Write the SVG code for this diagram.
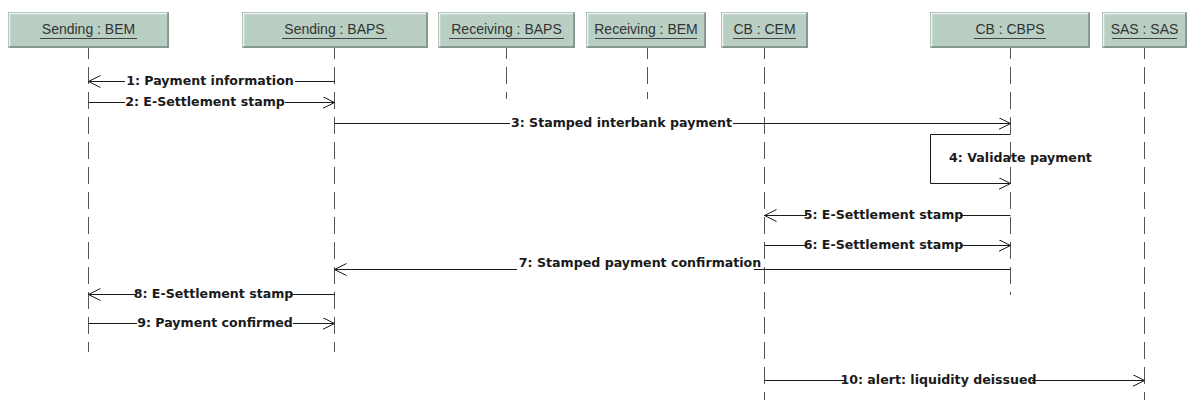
<svg xmlns="http://www.w3.org/2000/svg" width="1189" height="400" viewBox="0 0 1189 400">
<style>
.box{fill:#b9cfc4;stroke:#a3b7ad;stroke-width:1}
.hl{stroke:#eef4f0;stroke-width:1.5;fill:none}
.sh{stroke:#7c8c84;stroke-width:1.5;fill:none}
.bt{font-family:"Liberation Sans",Arial,sans-serif;font-size:14px;fill:#333;text-anchor:middle}
.ul{stroke:#444;stroke-width:1}
.life{stroke:#555;stroke-width:1;stroke-dasharray:17 8;stroke-dashoffset:6;fill:none}
.msg{stroke:#1a1a1a;stroke-width:1;fill:none}
.lbl{font-family:"DejaVu Sans","Liberation Sans",sans-serif;font-weight:bold;font-size:12.6px;fill:#1a1a1a;text-anchor:middle}
.bg{fill:#fff}
</style>
<defs>
<marker id="arr" markerUnits="userSpaceOnUse" markerWidth="14" markerHeight="14" refX="12" refY="6" orient="auto" viewBox="0 0 14 14">
<path d="M0,0 L12,6 L0,12" fill="none" stroke="#1a1a1a" stroke-width="1"/>
</marker>
</defs>
<rect width="1189" height="400" fill="#fff"/>

<g id="lifelines">
<line class="life" x1="88.5" y1="48" x2="88.5" y2="352"/>
<line class="life" x1="334.5" y1="48" x2="334.5" y2="352"/>
<line class="life" x1="506.5" y1="48" x2="506.5" y2="99"/>
<line class="life" x1="647.5" y1="48" x2="647.5" y2="99"/>
<line class="life" x1="764.5" y1="48" x2="764.5" y2="400"/>
<line class="life" x1="1010.5" y1="48" x2="1010.5" y2="295"/>
<line class="life" x1="1144.5" y1="48" x2="1144.5" y2="400"/>
</g>

<g id="node-sending-bem">
<rect class="box" x="8.5" y="12.5" width="160" height="35"/>
<polyline class="hl" points="9.5,46.5 9.5,13.5 167.5,13.5"/>
<polyline class="sh" points="9.5,47 168,47 168,13"/>
<text class="bt" x="88.5" y="33.5">Sending : BEM</text>
<line class="ul" x1="40" y1="38.5" x2="137" y2="38.5"/>
</g>
<g id="node-sending-baps">
<rect class="box" x="242.5" y="12.5" width="185" height="35"/>
<polyline class="hl" points="243.5,46.5 243.5,13.5 426.5,13.5"/>
<polyline class="sh" points="243.5,47 427,47 427,13"/>
<text class="bt" x="334.5" y="33.5">Sending : BAPS</text>
<line class="ul" x1="282" y1="38.5" x2="387" y2="38.5"/>
</g>
<g id="node-receiving-baps">
<rect class="box" x="438.5" y="12.5" width="136" height="35"/>
<polyline class="hl" points="439.5,46.5 439.5,13.5 573.5,13.5"/>
<polyline class="sh" points="439.5,47 574,47 574,13"/>
<text class="bt" x="506.5" y="33.5">Receiving : BAPS</text>
<line class="ul" x1="449" y1="38.5" x2="564" y2="38.5"/>
</g>
<g id="node-receiving-bem">
<rect class="box" x="586.5" y="12.5" width="119" height="35"/>
<polyline class="hl" points="587.5,46.5 587.5,13.5 704.5,13.5"/>
<polyline class="sh" points="587.5,47 705,47 705,13"/>
<text class="bt" x="646" y="33.5">Receiving : BEM</text>
<line class="ul" x1="595" y1="38.5" x2="697" y2="38.5"/>
</g>
<g id="node-cb-cem">
<rect class="box" x="721.5" y="12.5" width="86" height="35"/>
<polyline class="hl" points="722.5,46.5 722.5,13.5 806.5,13.5"/>
<polyline class="sh" points="722.5,47 807,47 807,13"/>
<text class="bt" x="764.5" y="33.5">CB : CEM</text>
<line class="ul" x1="733" y1="38.5" x2="796" y2="38.5"/>
</g>
<g id="node-cb-cbps">
<rect class="box" x="930.5" y="12.5" width="159" height="35"/>
<polyline class="hl" points="931.5,46.5 931.5,13.5 1088.5,13.5"/>
<polyline class="sh" points="931.5,47 1089,47 1089,13"/>
<text class="bt" x="1010" y="33.5">CB : CBPS</text>
<line class="ul" x1="974" y1="38.5" x2="1046" y2="38.5"/>
</g>
<g id="node-sas-sas">
<rect class="box" x="1102.5" y="12.5" width="84" height="35"/>
<polyline class="hl" points="1103.5,46.5 1103.5,13.5 1185.5,13.5"/>
<polyline class="sh" points="1103.5,47 1186,47 1186,13"/>
<text class="bt" x="1144.5" y="33.5">SAS : SAS</text>
<line class="ul" x1="1112" y1="38.5" x2="1177" y2="38.5"/>
</g>

<g id="connectors">
<line class="msg" x1="334.5" y1="81.5" x2="88.5" y2="81.5" marker-end="url(#arr)"/>
<line class="msg" x1="88.5" y1="102.5" x2="334.5" y2="102.5" marker-end="url(#arr)"/>
<line class="msg" x1="334.5" y1="123.5" x2="1010.5" y2="123.5" marker-end="url(#arr)"/>
<polyline class="msg" points="1010.5,134.5 930.5,134.5 930.5,183.5 1010.5,183.5" marker-end="url(#arr)"/>
<line class="msg" x1="1010.5" y1="215.5" x2="764.5" y2="215.5" marker-end="url(#arr)"/>
<line class="msg" x1="764.5" y1="245.5" x2="1010.5" y2="245.5" marker-end="url(#arr)"/>
<line class="msg" x1="1010.5" y1="269.5" x2="334.5" y2="269.5" marker-end="url(#arr)"/>
<line class="msg" x1="334.5" y1="294.5" x2="88.5" y2="294.5" marker-end="url(#arr)"/>
<line class="msg" x1="88.5" y1="323.5" x2="334.5" y2="323.5" marker-end="url(#arr)"/>
<line class="msg" x1="764.5" y1="380.5" x2="1144.5" y2="380.5" marker-end="url(#arr)"/>

<rect class="bg" x="125" y="74" width="170" height="12"/>
<text class="lbl" x="210" y="85">1: Payment information</text>
<rect class="bg" x="125" y="95" width="160" height="12"/>
<text class="lbl" x="205" y="106">2: E-Settlement stamp</text>
<rect class="bg" x="510" y="116" width="223" height="12"/>
<text class="lbl" x="621.5" y="127">3: Stamped interbank payment</text>
<text class="lbl" x="1020.5" y="162" >4: Validate payment</text>
<rect class="bg" x="807" y="208" width="153" height="12"/>
<text class="lbl" x="883.5" y="219">5: E-Settlement stamp</text>
<rect class="bg" x="807" y="238" width="153" height="12"/>
<text class="lbl" x="883.5" y="249">6: E-Settlement stamp</text>
<rect class="bg" x="517" y="256" width="237" height="15"/>
<text class="lbl" x="640" y="267">7: Stamped payment confirmation</text>
<rect class="bg" x="137" y="287" width="153" height="12"/>
<text class="lbl" x="213.5" y="298">8: E-Settlement stamp</text>
<rect class="bg" x="137" y="316" width="156" height="12"/>
<text class="lbl" x="215" y="327">9: Payment confirmed</text>
<rect class="bg" x="845" y="373" width="187" height="12"/>
<text class="lbl" x="938.5" y="384">10: alert: liquidity deissued</text>
</g>
</svg>
